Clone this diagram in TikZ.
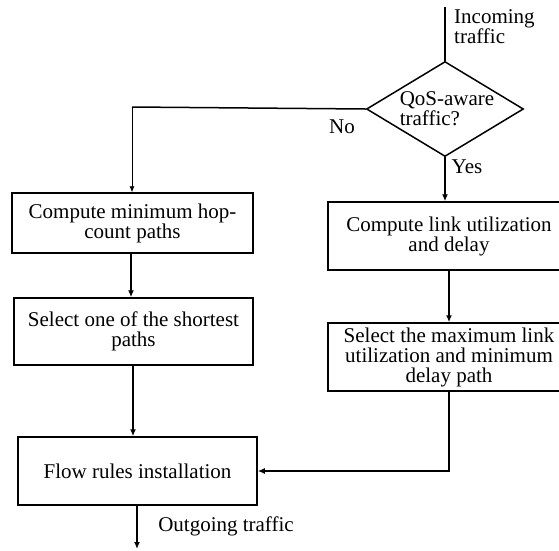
\documentclass[tikz,border=0pt]{standalone}
\usepackage{fontspec}
\setmainfont{Liberation Serif}
\usetikzlibrary{shapes.geometric,arrows.meta}
\begin{document}
\begin{tikzpicture}[x=1pt,y=-1pt,
  font=\fontsize{21}{20}\selectfont,
  stepbox/.style={draw, line width=1.5pt, align=center, inner sep=0pt},
  decision/.style={draw, shape=diamond, line width=1.5pt, inner sep=0pt,
    minimum width=157pt, minimum height=95pt},
  flowline/.style={line width=1.5pt, -{Latex[length=7pt,width=6pt]}},
  thinline/.style={line width=0.8pt, -{Latex[length=6pt,width=5pt]}},
  plain/.style={line width=1.5pt}]

  \clip (0,0) rectangle (559,550);

  % decision
  \coordinate (in) at (445,7);
  \node[decision] (dec) at (445,109) {};
  \node[align=left, inner sep=0pt] (dectext) at (447,109) {QoS-aware\\traffic?};
  \node[align=left, anchor=north west, inner sep=0pt] (inlbl) at (454,9) {Incoming\\traffic};
  \node[inner sep=0pt] (nolbl) at (342,127) {No};
  \node[inner sep=0pt] (yeslbl) at (467,167) {Yes};

  % left branch
  \node[stepbox, minimum width=241pt, minimum height=60pt] (hop) at (132.5,223)
    {Compute minimum hop-\\count paths};
  \node[stepbox, minimum width=239pt, minimum height=67pt] (short) at (133.5,331.5)
    {Select one of the shortest\\paths};
  \node[stepbox, minimum width=239pt, minimum height=68pt] (rules) at (137.5,471)
    {Flow rules installation};

  % right branch
  \node[stepbox, minimum width=242pt, minimum height=68pt] (util) at (449,236)
    {Compute link utilization\\and delay};
  \node[stepbox, minimum width=242pt, minimum height=68pt] (maxsel) at (449,357)
    {Select the maximum link\\utilization and minimum\\delay path};

  \coordinate (out) at (137,549);
  \node[inner sep=0pt] (outlbl) at (226,526) {Outgoing traffic};

  % connectors
  \draw[plain] (in) -- (dec.north);
  \coordinate (nocorner) at (132,107);
  \draw[plain] (dec.west) -- (nocorner);
  \draw[thinline] (nocorner) -- (hop.north -| nocorner);
  \draw[flowline] (dec.south) -- (dec.south |- util.north);
  \draw[flowline] (hop.south -| 131,0) -- (short.north -| 131,0);
  \draw[flowline] (short.south -| 133,0) -- (rules.north -| 133,0);
  \draw[flowline] (util.south) -- (maxsel.north);
  \draw[flowline] (maxsel.south) |- (rules.east);
  \draw[flowline] (rules.south -| out) -- (out);
\end{tikzpicture}
\end{document}
